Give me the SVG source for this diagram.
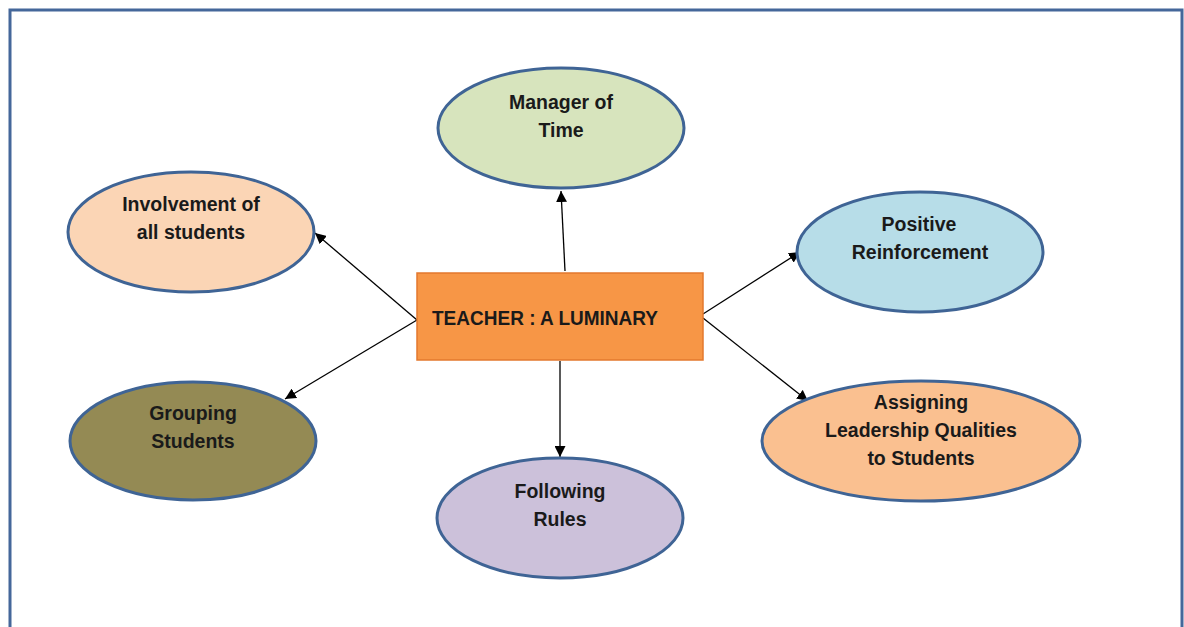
<svg xmlns="http://www.w3.org/2000/svg" width="1184" height="627" viewBox="0 0 1184 627">
<defs>
<marker id="ah" viewBox="0 0 10 10" refX="10" refY="5" markerWidth="11" markerHeight="11" markerUnits="userSpaceOnUse" orient="auto">
<path d="M0,0 L10,5 L0,10 z" fill="#000"/>
</marker>
<style>
.e{stroke:#3f6495;stroke-width:3}
.t{font-family:"Liberation Sans",Arial,sans-serif;font-weight:bold;font-size:19.5px;fill:#1a1a1a;text-anchor:middle}
.c{stroke:#000;stroke-width:1.3;fill:none;marker-end:url(#ah)}
</style>
</defs>
<rect x="0" y="0" width="1184" height="627" fill="#fff"/>
<path d="M10,640 L10,10 L1182,10 L1182,640" fill="none" stroke="#44679a" stroke-width="3"/>
<g id="connectors">
<line class="c" x1="565" y1="271" x2="561" y2="191"/>
<line class="c" x1="417" y1="320" x2="315" y2="233"/>
<line class="c" x1="417" y1="320" x2="285" y2="399"/>
<line class="c" x1="560" y1="361" x2="560" y2="457"/>
<line class="c" x1="703" y1="314" x2="800" y2="252"/>
<line class="c" x1="703" y1="318" x2="808" y2="401"/>
</g>
<g id="center">
<rect x="417" y="273" width="286" height="87" fill="#f79646" stroke="#e3782e" stroke-width="1.5"/>
<text x="432" y="325" class="t" style="text-anchor:start" textLength="226" lengthAdjust="spacingAndGlyphs">TEACHER : A LUMINARY</text>
</g>
<g id="manager">
<ellipse class="e" cx="561" cy="128" rx="123" ry="60" fill="#d7e4bd"/>
<text class="t" x="561" y="109">Manager of</text>
<text class="t" x="561" y="137">Time</text>
</g>
<g id="involvement">
<ellipse class="e" cx="191" cy="232" rx="123" ry="60" fill="#fbd5b5"/>
<text class="t" x="191" y="211">Involvement of</text>
<text class="t" x="191" y="239">all students</text>
</g>
<g id="positive">
<ellipse class="e" cx="920" cy="252" rx="123" ry="60" fill="#b7dde8"/>
<text class="t" x="919" y="231">Positive</text>
<text class="t" x="920" y="259">Reinforcement</text>
</g>
<g id="grouping">
<ellipse class="e" cx="193" cy="441" rx="123" ry="59" fill="#948a54"/>
<text class="t" x="193" y="420">Grouping</text>
<text class="t" x="193" y="448">Students</text>
</g>
<g id="following">
<ellipse class="e" cx="560" cy="518" rx="123" ry="60" fill="#ccc1da"/>
<text class="t" x="560" y="498">Following</text>
<text class="t" x="560" y="526">Rules</text>
</g>
<g id="assigning">
<ellipse class="e" cx="921" cy="441" rx="159" ry="60" fill="#fac090"/>
<text class="t" x="921" y="409">Assigning</text>
<text class="t" x="921" y="437">Leadership Qualities</text>
<text class="t" x="921" y="465">to Students</text>
</g>
</svg>
